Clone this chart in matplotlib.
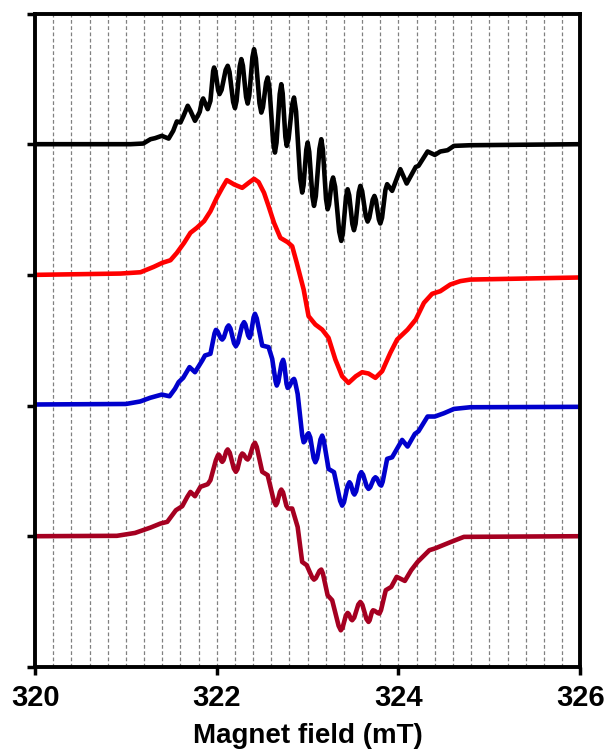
import matplotlib
matplotlib.use('Agg')
import matplotlib.pyplot as plt
from matplotlib.ticker import MultipleLocator

plt.rcParams['font.family'] = ['Liberation Sans', 'DejaVu Sans']

# Espectros EPR (campo en mT, intensidad relativa a su linea base)
campo_negro = [320.0, 321.05, 321.19, 321.27, 321.32, 321.395, 321.47, 321.52, 321.56, 321.60,
               321.634, 321.68, 321.71, 321.76, 321.80, 321.8125, 321.8375, 321.85, 321.90, 321.93,
               321.96, 321.97, 321.985, 322.015, 322.03, 322.0525, 322.0975, 322.12, 322.14, 322.18,
               322.20, 322.2175, 322.2525, 322.27, 322.2875, 322.3225, 322.34, 322.3575, 322.3925, 322.41,
               322.43, 322.47, 322.49, 322.5075, 322.5425, 322.56, 322.58, 322.62, 322.64, 322.6575,
               322.6925, 322.71, 322.725, 322.755, 322.77, 322.79, 322.83, 322.85, 322.8725, 322.9175,
               322.94, 322.955, 322.985, 323.00, 323.0175, 323.0525, 323.07, 323.09, 323.13, 323.15,
               323.1675, 323.2025, 323.22, 323.235, 323.265, 323.28, 323.3025, 323.3475, 323.37, 323.3875,
               323.4225, 323.44, 323.4575, 323.4925, 323.51, 323.5275, 323.5625, 323.58, 323.60, 323.64,
               323.66, 323.679, 323.716, 323.735, 323.751, 323.784, 323.80, 323.819, 323.856, 323.875,
               323.93, 324.02, 324.09, 324.19, 324.22, 324.32, 324.40, 324.46, 324.54, 324.61,
               324.79, 326.0]
senal_negro = [0, 0, 0.005, 0.038, 0.046, 0.064, 0.043, 0.102, 0.174, 0.166,
               0.217, 0.294, 0.255, 0.179, 0.230, 0.248, 0.332, 0.350, 0.268, 0.332,
               0.560, 0.587, 0.557, 0.413, 0.383, 0.415, 0.568, 0.600, 0.553, 0.323,
               0.276, 0.331, 0.596, 0.651, 0.601, 0.361, 0.311, 0.372, 0.666, 0.727,
               0.656, 0.313, 0.242, 0.281, 0.471, 0.510, 0.426, 0.020, -0.064, 0.012,
               0.383, 0.459, 0.390, 0.056, -0.013, 0.041, 0.303, 0.357, 0.251, -0.264,
               -0.370, -0.314, -0.043, 0.013, -0.058, -0.401, -0.472, -0.398, -0.036, 0.038,
               -0.040, -0.420, -0.498, -0.463, -0.290, -0.255, -0.326, -0.669, -0.740, -0.682,
               -0.403, -0.345, -0.391, -0.612, -0.658, -0.609, -0.369, -0.319, -0.359, -0.552,
               -0.592, -0.563, -0.425, -0.396, -0.427, -0.576, -0.607, -0.563, -0.350, -0.306,
               -0.357, -0.191, -0.301, -0.174, -0.166, -0.056, -0.082, -0.056, -0.046, -0.013,
               -0.008, 0.0]

campo_rojo = [320.0, 320.94, 321.16, 321.305, 321.40, 321.49, 321.56, 321.64, 321.71, 321.78,
              321.86, 321.93, 322.00, 322.06, 322.11, 322.19, 322.28, 322.35, 322.41, 322.46,
              322.52, 322.57, 322.63, 322.70, 322.78, 322.83, 322.88, 322.956, 323.01, 323.085,
              323.16, 323.23, 323.305, 323.38, 323.45, 323.53, 323.60, 323.67, 323.746, 323.82,
              323.91, 323.985, 324.10, 324.19, 324.28, 324.37, 324.46, 324.57, 324.68, 324.79, 326.0]
senal_rojo = [0, 0.010, 0.020, 0.061, 0.092, 0.112, 0.168, 0.245, 0.322, 0.360,
              0.411, 0.487, 0.590, 0.666, 0.725, 0.692, 0.666, 0.704, 0.735, 0.710,
              0.628, 0.526, 0.398, 0.283, 0.250, 0.219, 0.092, -0.112, -0.316, -0.380,
              -0.419, -0.482, -0.648, -0.776, -0.827, -0.776, -0.745, -0.755, -0.788, -0.737,
              -0.597, -0.495, -0.419, -0.342, -0.214, -0.145, -0.125, -0.074, -0.048, -0.036, -0.02]

campo_azul = [320.0, 321.0, 321.156, 321.266, 321.395, 321.48, 321.54, 321.58, 321.63, 321.70,
              321.76, 321.84, 321.87, 321.93, 321.975, 321.99, 322.0075, 322.0425, 322.06, 322.0775,
              322.1125, 322.13, 322.15, 322.19, 322.21, 322.2325, 322.2775, 322.30, 322.315, 322.345,
              322.36, 322.375, 322.405, 322.42, 322.44, 322.50, 322.57, 322.61, 322.6475, 322.66,
              322.6775, 322.7125, 322.73, 322.7425, 322.7675, 322.78, 322.7975, 322.8325, 322.85, 322.86,
              322.89, 322.94, 322.956, 322.97, 322.996, 323.01, 323.029, 323.066, 323.085, 323.104,
              323.141, 323.16, 323.1775, 323.23, 323.29, 323.3575, 323.38, 323.40, 323.44, 323.46,
              323.474, 323.501, 323.515, 323.534, 323.571, 323.59, 323.61, 323.65, 323.67, 323.689,
              323.727, 323.746, 323.762, 323.794, 323.81, 323.826, 323.875, 323.93, 324.04, 324.10,
              324.18, 324.22, 324.32, 324.40, 324.50, 324.61, 324.79, 326.0]
senal_azul = [0.008, 0.012, 0.031, 0.059, 0.084, 0.071, 0.128, 0.179, 0.212, 0.294,
              0.255, 0.345, 0.383, 0.396, 0.552, 0.579, 0.568, 0.516, 0.505, 0.521,
              0.597, 0.613, 0.590, 0.477, 0.454, 0.481, 0.611, 0.638, 0.620, 0.536,
              0.518, 0.545, 0.675, 0.702, 0.667, 0.459, 0.447, 0.357, 0.183, 0.153,
              0.182, 0.321, 0.350, 0.319, 0.166, 0.135, 0.145, 0.194, 0.204, 0.187,
              0.089, -0.227, -0.281, -0.271, -0.222, -0.212, -0.244, -0.402, -0.434, -0.404,
              -0.260, -0.230, -0.267, -0.485, -0.510, -0.729, -0.766, -0.740, -0.613, -0.587,
              -0.601, -0.667, -0.681, -0.656, -0.535, -0.510, -0.529, -0.619, -0.638, -0.625,
              -0.562, -0.549, -0.558, -0.604, -0.613, -0.583, -0.408, -0.396, -0.263, -0.314,
              -0.217, -0.197, -0.084, -0.084, -0.059, -0.026, -0.013, -0.01]

campo_granate = [320.0, 320.9, 321.1, 321.27, 321.38, 321.455, 321.55, 321.62, 321.675, 321.71,
                 321.76, 321.82, 321.90, 321.93, 321.99, 322.0125, 322.02, 322.03, 322.05, 322.06,
                 322.075, 322.105, 322.12, 322.1425, 322.1875, 322.21, 322.2275, 322.2625, 322.28, 322.295,
                 322.325, 322.34, 322.36, 322.40, 322.42, 322.44, 322.50, 322.56, 322.6275, 322.65,
                 322.665, 322.695, 322.71, 322.729, 322.766, 322.785, 322.83, 322.89, 322.94, 322.99,
                 323.05, 323.07, 323.09, 323.13, 323.15, 323.1675, 323.22, 323.27, 323.341, 323.365,
                 323.384, 323.421, 323.44, 323.4525, 323.4775, 323.49, 323.5125, 323.5575, 323.58, 323.6025,
                 323.6475, 323.67, 323.6825, 323.7075, 323.72, 323.7375, 323.7725, 323.79, 323.8075, 323.86,
                 323.92, 323.98, 324.07, 324.14, 324.21, 324.34, 324.40, 324.58, 324.72, 326.0]
senal_granate = [0, 0.003, 0.025, 0.066, 0.097, 0.110, 0.199, 0.230, 0.301, 0.339,
                 0.306, 0.378, 0.398, 0.429, 0.582, 0.619, 0.625, 0.617, 0.577, 0.569,
                 0.583, 0.650, 0.664, 0.639, 0.518, 0.493, 0.513, 0.613, 0.633, 0.626,
                 0.594, 0.587, 0.606, 0.696, 0.715, 0.683, 0.493, 0.467, 0.271, 0.237,
                 0.255, 0.339, 0.357, 0.336, 0.233, 0.212, 0.212, 0.071, -0.197, -0.222,
                 -0.316, -0.332, -0.321, -0.266, -0.255, -0.284, -0.452, -0.490, -0.686, -0.720,
                 -0.701, -0.606, -0.587, -0.595, -0.635, -0.643, -0.623, -0.523, -0.503, -0.525,
                 -0.634, -0.656, -0.643, -0.580, -0.567, -0.571, -0.588, -0.592, -0.566, -0.413,
                 -0.388, -0.311, -0.342, -0.260, -0.197, -0.107, -0.094, -0.043, -0.005, 0.0]

desplazamientos = [4, 3, 2, 1]
colores = ['black', '#FF0000', '#0000CC', '#A50021']
xticks = [320, 322, 324, 326]

fig = plt.figure(figsize=(6.05, 7.51), dpi=100)
ax = fig.add_axes([0.058, 0.112, 0.901, 0.870])

# rejilla vertical discontinua cada 0.2 mT
ax.xaxis.set_minor_locator(MultipleLocator(0.2))
ax.grid(True, which='both', axis='x', color='#808080', linestyle=(0, (3, 2)), linewidth=0.9)
ax.set_axisbelow(True)

series = [(campo_negro, senal_negro), (campo_rojo, senal_rojo),
          (campo_azul, senal_azul), (campo_granate, senal_granate)]
for (x, y), off, c in zip(series, desplazamientos, colores):
    ax.plot(x, [v + off for v in y], color=c, linewidth=3.3,
            solid_joinstyle='round', solid_capstyle='round')

ax.set_xlim(320, 326)
ax.set_ylim(0, 5)
ax.set_xticks(xticks)
ax.set_xticklabels([str(t) for t in xticks], fontsize=21, fontweight='bold')
ax.set_yticks(range(0, 6))
ax.set_yticklabels([])
ax.tick_params(axis='both', which='major', direction='out', length=6, width=2.5, pad=6)
ax.tick_params(axis='x', which='minor', length=0)
for s in ax.spines.values():
    s.set_linewidth(2.8)

ax.set_xlabel('Magnet field (mT)', fontsize=20, fontweight='bold', labelpad=8)

plt.savefig('out.png', dpi=100)
